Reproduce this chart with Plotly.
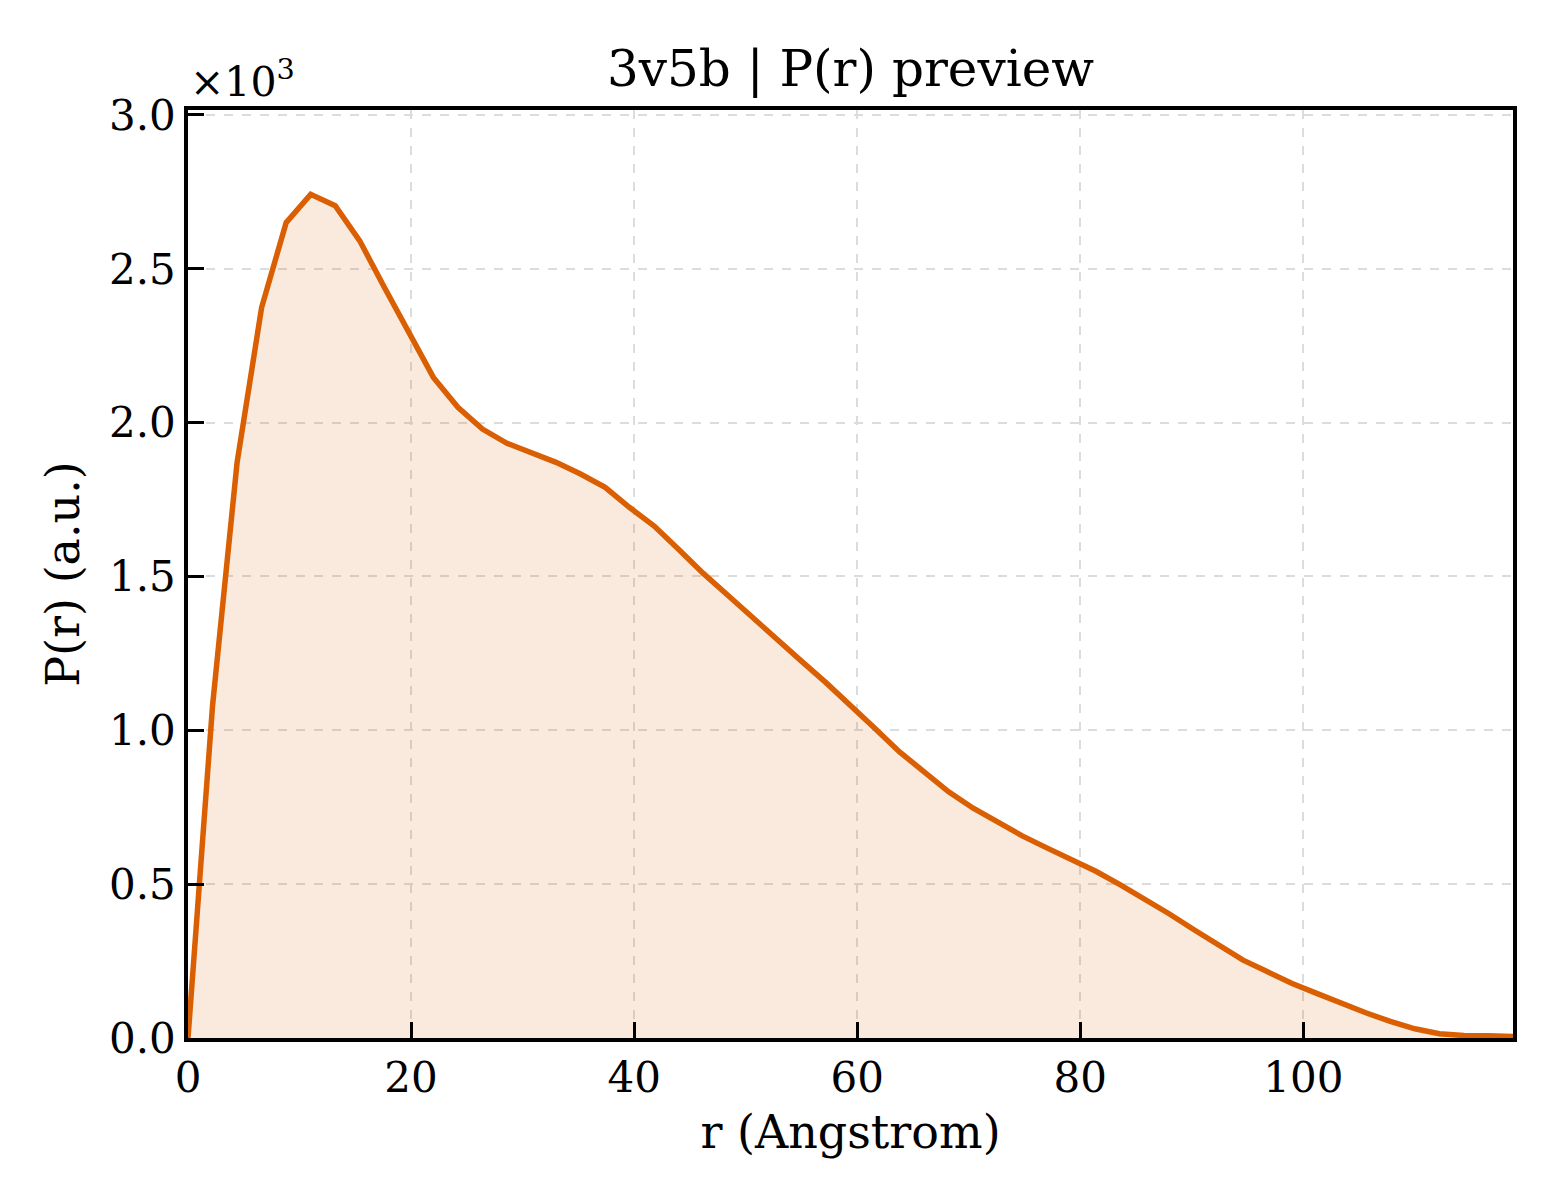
"""
P(r) preview for 3v5b: pair-distance distribution with a shaded area
under the curve. Writes out.html.
"""
import plotly.graph_objects as go

# r grid (Angstrom), 2.2 A steps up to Dmax = 118.8
R = [0.0, 2.2, 4.4, 6.6, 8.8, 11.0, 13.2, 15.4, 17.6, 19.8,
     22.0, 24.2, 26.4, 28.6, 30.8, 33.0, 35.2, 37.4, 39.6, 41.8,
     44.0, 46.2, 48.4, 50.6, 52.8, 55.0, 57.2, 59.4, 61.6, 63.8,
     66.0, 68.2, 70.4, 72.6, 74.8, 77.0, 79.2, 81.4, 83.6, 85.8,
     88.0, 90.2, 92.4, 94.6, 96.8, 99.0, 101.2, 103.4, 105.6, 107.8,
     110.0, 112.2, 114.4, 116.6, 118.8]

# P(r), arbitrary units
PR = [0, 1080, 1870, 2374, 2650, 2742, 2705, 2591, 2440, 2289,
      2147, 2050, 1979, 1933, 1900, 1871, 1833, 1790, 1724, 1664,
      1588, 1510, 1439, 1366, 1295, 1225, 1155, 1083, 1006, 930,
      864, 800, 747, 700, 657, 618, 582, 542, 498, 452,
      403, 352, 300, 253, 215, 177, 145, 112, 82, 54,
      30, 14, 8, 7, 5]

X_TICKS = [0, 20, 40, 60, 80, 100]
Y_TICKS = [0.0, 0.5, 1.0, 1.5, 2.0, 2.5, 3.0]

LINE = "#d95f02"
FILL = "rgba(217,95,2,0.13)"
SERIF = "DejaVu Serif, serif"

SCALE = 1e3
y_scaled = [v / SCALE for v in PR]

fig = go.Figure()
fig.add_trace(go.Scatter(
    x=R, y=y_scaled, mode="lines",
    line=dict(color=LINE, width=5.5),
    fill="tozeroy", fillcolor=FILL,
    showlegend=False,
))

axis_common = dict(
    showline=True, linecolor="black", linewidth=3.5, mirror=True,
    ticks="inside", ticklen=16, tickwidth=3, tickcolor="black",
    showgrid=True, gridcolor="#dcdcdc", gridwidth=1.5, griddash="dash",
    zeroline=False,
    tickfont=dict(family=SERIF, size=42, color="black"),
)

fig.update_xaxes(
    range=[0, max(R)], tickvals=X_TICKS,
    title=dict(text="r (Angstrom)", font=dict(family=SERIF, size=46, color="black"),
               standoff=16),
    **axis_common,
)
fig.update_yaxes(
    range=[0, max(y_scaled) * 1.1], tickvals=Y_TICKS,
    ticktext=[f"{v:.1f}" for v in Y_TICKS],
    title=dict(text="P(r) (a.u.)", font=dict(family=SERIF, size=46, color="black"),
               standoff=16),
    **axis_common,
)

fig.add_annotation(
    text="×10<sup>3</sup>", xref="paper", yref="paper", x=0, y=1,
    xanchor="left", yanchor="bottom", yshift=2, showarrow=False,
    font=dict(family=SERIF, size=41, color="black"),
)

fig.update_layout(
    title=dict(text="3v5b | P(r) preview", x=0.5, xref="paper",
               y=1 - 60 / 1200, yref="container", yanchor="middle",
               font=dict(family=SERIF, size=50, color="black")),
    width=1560, height=1200,
    margin=dict(l=180, r=55, t=102, b=170),
    plot_bgcolor="white", paper_bgcolor="white",
)

fig.write_html("out.html")
